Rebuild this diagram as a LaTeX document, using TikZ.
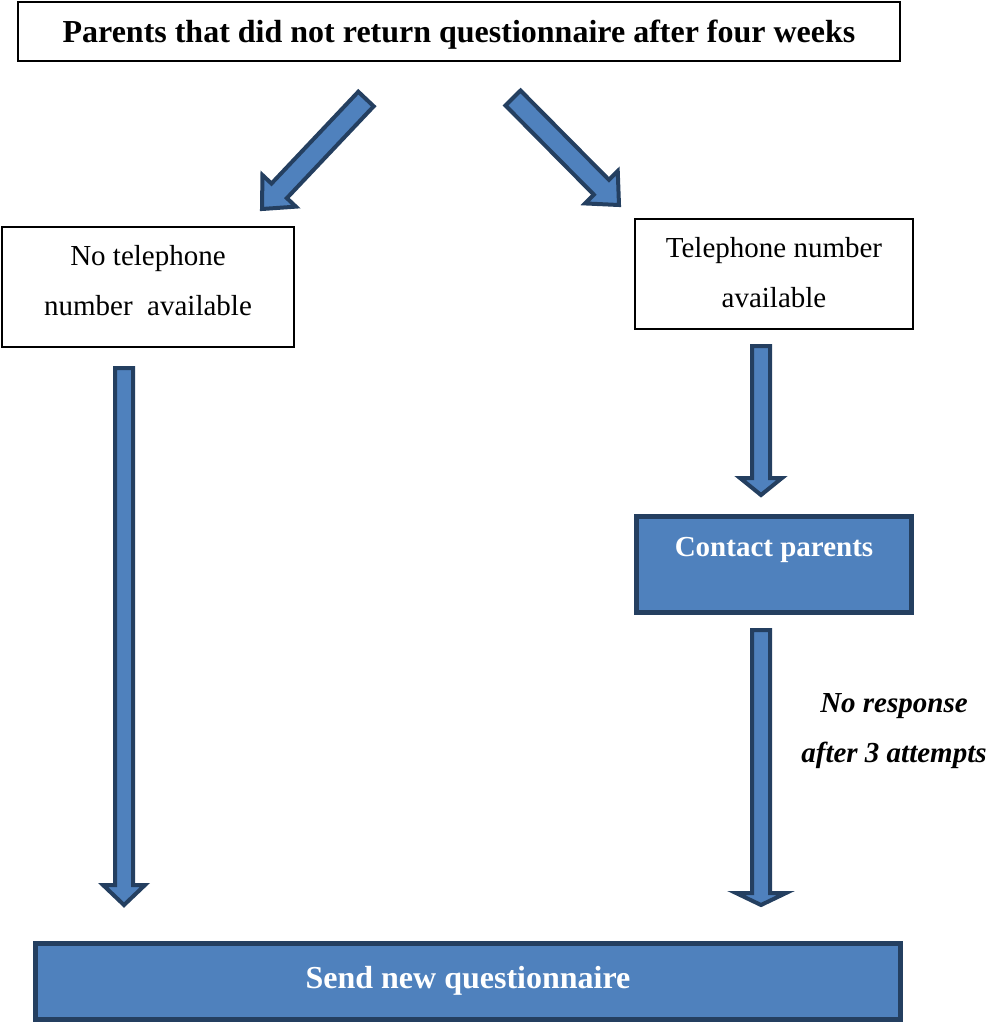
\documentclass[tikz,border=0pt]{standalone}
\usepackage{fontspec}
\setmainfont{Liberation Serif}
\usetikzlibrary{calc}

\definecolor{boxblue}{HTML}{4F81BD}
\definecolor{boxedge}{HTML}{243F60}

% block arrow: tail, tip, shaft half width, head half width, head length
\newcommand{\blockarrow}[5]{%
  \coordinate (#1-q) at ($(#2)!#5!(#1)$);
  \draw[arrowbody] ($(#1)!#3!90:(#2)$) -- ($(#1-q)!#3!90:(#2)$)
    -- ($(#1-q)!#4!90:(#2)$) -- (#2) -- ($(#1-q)!#4!-90:(#2)$)
    -- ($(#1-q)!#3!-90:(#2)$) -- ($(#1)!#3!-90:(#2)$) -- cycle;
}

\begin{document}
\begin{tikzpicture}[x=0.5pt, y=-0.5pt,
    plainbox/.style={draw=black, line width=0.6pt, fill=white, inner sep=2pt,
      align=center, font=\fontsize{14.5}{25}\selectfont},
    bluebox/.style={draw=boxedge, line width=2.5pt, fill=boxblue, text=white,
      inner sep=2pt, align=center, font=\fontsize{14.5}{25}\selectfont\bfseries},
    arrowbody/.style={draw=boxedge, line width=2pt, fill=boxblue, line join=miter}]
  \useasboundingbox (0,0) rectangle (988,1024);

  % boxes
  \node[plainbox, minimum width=441pt, minimum height=29.5pt,
    text height=14.5pt, text depth=3.5pt,
    font=\fontsize{16}{20}\selectfont\bfseries] (parents) at (459,31.5)
    {Parents that did not return questionnaire after four weeks};
  \node[plainbox, minimum width=146pt, minimum height=60pt, text depth=6.4pt]
    (notel) at (148,287) {No telephone\\number\ \ available};
  \node[plainbox, minimum width=139pt, minimum height=55pt, text depth=1.4pt]
    (tel) at (774,274) {Telephone number\\available};
  \node[bluebox, minimum width=137.5pt, minimum height=48pt, text depth=17.8pt]
    (contact) at (774,564.5) {Contact parents};
  \node[bluebox, minimum width=432.5pt, minimum height=38pt, text depth=4pt,
    font=\fontsize{16}{20}\selectfont\bfseries] (send) at (468,981.5)
    {Send new questionnaire};
  \node[align=center, font=\fontsize{14.5}{25}\selectfont\bfseries\itshape]
    (noresp) at (894,731) {No response\\after 3 attempts};

  % arrow ends
  \coordinate (la) at (366,99);   \coordinate (lb) at (262,209);
  \coordinate (ra) at (513,98);   \coordinate (rb) at (619,205);
  \coordinate (ta) at (761,346);  \coordinate (tb) at (761,495);
  \coordinate (ca) at (761,630);  \coordinate (cb) at (761,905);
  \coordinate (na) at (124,368);  \coordinate (nb) at (124,905);

  % arrows
  \blockarrow{la}{lb}{5.3pt}{11.5pt}{12.5pt}
  \blockarrow{ra}{rb}{5.3pt}{11.5pt}{12.5pt}
  \blockarrow{ta}{tb}{4.5pt}{10.5pt}{8.5pt}
  \blockarrow{ca}{cb}{4.5pt}{12.5pt}{6pt}
  \blockarrow{na}{nb}{4.5pt}{10.5pt}{10pt}
\end{tikzpicture}
\end{document}
